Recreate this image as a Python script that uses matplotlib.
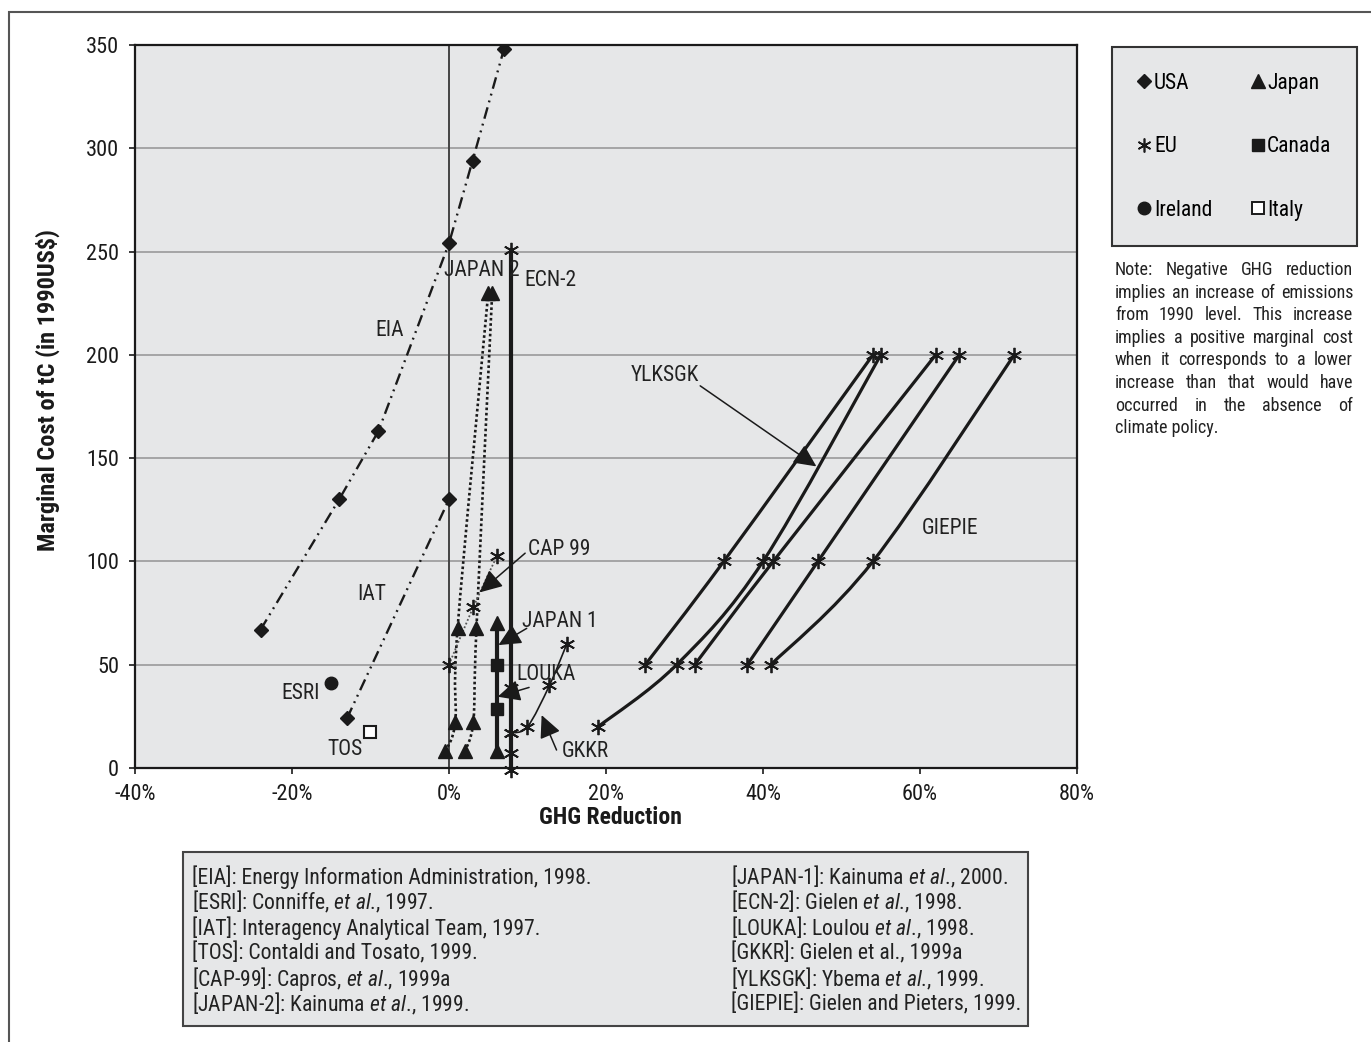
import numpy as np
import matplotlib
matplotlib.use("Agg")
import matplotlib.pyplot as plt
from matplotlib import font_manager
from matplotlib.path import Path
from matplotlib.patches import PathPatch, Rectangle
from matplotlib.lines import Line2D

# fonts: the exhibit uses a condensed sans, take the narrowest one installed
entries = [(f.name, str(f.stretch)) for f in font_manager.fontManager.ttflist]
FONT, STRETCH = "Liberation Sans", "normal"
for name, cond in [("Liberation Sans Narrow", None), ("Roboto Condensed", None),
                   ("DejaVu Sans", "condensed"), ("Open Sans Condensed", None)]:
    if any(n == name and (cond is None or s == cond) for n, s in entries):
        FONT, STRETCH = name, (cond or "normal")
        break
plt.rcParams["font.family"] = [FONT, "DejaVu Sans"]
plt.rcParams["font.stretch"] = STRETCH
plt.rcParams["mathtext.fontset"] = "custom"
plt.rcParams["mathtext.rm"] = FONT
plt.rcParams["mathtext.it"] = FONT + ":italic"
NARROW = FONT != "Liberation Sans"
SZ = 1.0 if NARROW else 0.9

# ---------------- data (x = GHG reduction %, y = marginal cost) ----------------
eia_x = [-24, -14, -9, 0, 3, 7]
eia_y = [67, 130, 163, 254, 294, 348]
iat_x = [-13, 0]
iat_y = [24, 130]
esri_x, esri_y = [-15], [41]
tos_x, tos_y = [-10], [17.5]

japan2a_x = [-0.5, 0.8, 1.1, 5.0]
japan2a_y = [8, 22.5, 68, 230]
japan2b_x = [2.0, 3.1, 3.5, 5.5]
japan2b_y = [8, 22.5, 68, 230]

cap99_x = [0, 3.1, 6.1]
cap99_y = [50, 78, 102.5]

japan1_x = [6.1, 6.1]
japan1_y = [8, 70]
canada_x = [6.1, 6.1]
canada_y = [28.5, 50]

ecn2_x = [7.9, 7.9]
ecn2_y = [-1, 251]
louka_x = [7.9, 7.9, 7.9]
louka_y = [7.5, 17, 38.5]
gkkr_x = [7.9, 10, 12.8, 15]
gkkr_y = [17, 20, 40, 60]

ylksgk_curves = [
    ([25, 35, 54], [50, 100, 200]),
    ([19, 29, 40, 55], [20, 50, 100, 200]),
    ([31.3, 41.3, 62], [50, 100, 200]),
]
giepie_curves = [
    ([38, 47, 65], [50, 100, 200]),
    ([41, 54, 72], [50, 100, 200]),
]

# study labels and arrows
plain_labels = [("EIA", -7.5, 212), ("JAPAN 2", 4.2, 241), ("ECN-2", 12.9, 236),
                ("IAT", -9.8, 84), ("ESRI", -18.9, 36), ("TOS", -13.3, 9),
                ("GIEPIE", 63.8, 116)]
arrow_labels = [("CAP 99", 14.1, 106, (9.7, 104), (3.9, 85)),
                ("JAPAN 1", 14.1, 71, (9.9, 67.6), (6.3, 59.5)),
                ("LOUKA", 12.3, 45.5, (10.2, 39), (6.2, 34.5)),
                ("GKKR", 17.4, 8, (13.7, 8.7), (11.8, 25.6)),
                ("YLKSGK", 27.5, 190, (32, 185), (46.8, 146))]

x_ticks = [-40, -20, 0, 20, 40, 60, 80]
y_ticks = [0, 50, 100, 150, 200, 250, 300, 350]

legend_labels = ["USA", "EU", "Ireland", "Japan", "Canada", "Italy"]

note_lines = ["Note:  Negative GHG reduction",
              "implies an increase of emissions",
              "from 1990 level. This increase",
              "implies a positive marginal cost",
              "when it corresponds to a lower",
              "increase than that would have",
              "occurred in the absence of",
              "climate policy."]

refs_left = [r"[EIA]: Energy Information Administration, 1998.",
             r"[ESRI]: Conniffe, $\mathit{et\ al}$., 1997.",
             r"[IAT]: Interagency Analytical Team, 1997.",
             r"[TOS]: Contaldi and Tosato, 1999.",
             r"[CAP-99]: Capros, $\mathit{et\ al}$., 1999a",
             r"[JAPAN-2]: Kainuma $\mathit{et\ al}$., 1999."]
refs_right = [r"[JAPAN-1]: Kainuma $\mathit{et\ al}$., 2000.",
              r"[ECN-2]: Gielen $\mathit{et\ al}$., 1998.",
              r"[LOUKA]: Loulou $\mathit{et\ al}$., 1998.",
              r"[GKKR]: Gielen et al., 1999a",
              r"[YLKSGK]: Ybema $\mathit{et\ al}$., 1999.",
              r"[GIEPIE]: Gielen and Pieters, 1999."]

W, H = 1371, 1042
BG = "#e6e7e8"
INK = "#1a1a1a"


def smooth_path(xs, ys):
    # Excel-like smoothed line through the points (cubic bezier, catmull-rom)
    pts = np.column_stack([xs, ys]).astype(float)
    n = len(pts)
    verts = [pts[0]]
    codes = [Path.MOVETO]
    for i in range(n - 1):
        p0 = pts[i - 1] if i > 0 else pts[i]
        p1, p2 = pts[i], pts[i + 1]
        p3 = pts[i + 2] if i + 2 < n else p2
        verts += [p1 + (p2 - p0) / 6, p2 - (p3 - p1) / 6, p2]
        codes += [Path.CURVE4] * 3
    return Path(verts, codes)


def smooth_line(ax, xs, ys, **kw):
    ax.add_patch(PathPatch(smooth_path(xs, ys), fill=False, capstyle="butt", **kw))


fig = plt.figure(figsize=(W / 100, H / 100), dpi=100)
ax = fig.add_axes([135 / W, 1 - 768 / H, (1077 - 135) / W, (768 - 45) / H])
ax.set_facecolor(BG)

# outer frame of the whole exhibit
fig.patches.append(Rectangle((9 / W, -0.05), 1.2, 1 - 12 / H + 0.05, transform=fig.transFigure,
                             fill=False, edgecolor="#555555", lw=1.5))

ax.set_xlim(-40, 80)
ax.set_ylim(0, 350)
ax.set_xticks(x_ticks)
ax.set_xticklabels([f"{v}%" for v in x_ticks])
ax.set_yticks(y_ticks)
ax.tick_params(axis="both", direction="out", length=4.5, width=1.2, labelsize=16 * SZ, colors=INK)
ax.tick_params(axis="x", pad=7)
ax.tick_params(axis="y", pad=7)
ax.yaxis.grid(True, color="#9a9a9a", lw=1.2)
ax.set_axisbelow(True)
for s in ax.spines.values():
    s.set_color(INK)
    s.set_linewidth(1.6)

ax.set_xlabel("GHG Reduction", fontsize=17 * SZ, fontweight="bold", color=INK)
ax.xaxis.set_label_coords((610 - 135) / 942, -(806 - 768) / 723)
ax.set_ylabel(r"Marginal Cost of tC (in 1990US\$)", fontsize=17.5 * SZ, fontweight="bold", color=INK)
ax.yaxis.set_label_coords(-(135 - 60) / 942, (768 - 390) / 723)

# vertical reference line at 0%
ax.axvline(0, color="#444444", lw=1.4, zorder=1.5)

dashdotdot = (0, (5, 2.2, 0.8, 2.2, 0.8, 2.2))
star = (6, 2, 0)

# USA studies
ax.plot(eia_x, eia_y, color=INK, lw=1.7, ls=dashdotdot, marker="D", ms=7, zorder=3)
ax.plot(iat_x, iat_y, color=INK, lw=1.7, ls=dashdotdot, marker="D", ms=7, zorder=3)
ax.plot(esri_x, esri_y, ls="none", marker="o", ms=9, color=INK, zorder=4)
ax.plot(tos_x, tos_y, ls="none", marker="s", ms=9, mfc="white", mec=INK, mew=1.5, zorder=4)

# JAPAN-2 dotted curves
for xs, ys in [(japan2a_x, japan2a_y), (japan2b_x, japan2b_y)]:
    smooth_line(ax, xs, ys, edgecolor=INK, lw=1.9, ls=(0, (1, 1)), zorder=3)
    ax.plot(xs, ys, ls="none", marker="^", ms=10, color=INK, zorder=4)

# CAP-99
smooth_line(ax, cap99_x, cap99_y, edgecolor="#555555", lw=1.3, ls=(0, (1, 1.2)), zorder=3)
ax.plot(cap99_x, cap99_y, ls="none", marker=star, ms=11, mew=1.3, color=INK, zorder=4)

# JAPAN-1 / Canada
ax.plot(japan1_x, japan1_y, color=INK, lw=3, marker="^", ms=10, zorder=3)
ax.plot(canada_x, canada_y, ls="none", marker="s", ms=9, color=INK, zorder=4)

# ECN-2, LOUKA, GKKR
ax.plot(ecn2_x, ecn2_y, color=INK, lw=3, marker=star, ms=11, mew=1.3, zorder=3, clip_on=False)
ax.plot(louka_x, louka_y, ls="none", marker=star, ms=11, mew=1.3, color=INK, zorder=4)
smooth_line(ax, gkkr_x, gkkr_y, edgecolor=INK, lw=1.2, zorder=3)
ax.plot(gkkr_x, gkkr_y, ls="none", marker=star, ms=11, mew=1.3, color=INK, zorder=4)

# YLKSGK / GIEPIE curves
for xs, ys in ylksgk_curves + giepie_curves:
    smooth_line(ax, xs, ys, edgecolor=INK, lw=2.3, zorder=3)
    ax.plot(xs, ys, ls="none", marker=star, ms=11, mew=1.3, color=INK, zorder=4)

# study labels
for txt, x, y in plain_labels:
    ax.text(x, y, txt, fontsize=15.5 * SZ, ha="center", va="center", color="#222222", zorder=5)
for txt, x, y, start, tip in arrow_labels:
    ax.text(x, y, txt, fontsize=15.5 * SZ, ha="center", va="center", color="#222222", zorder=5)
    ax.annotate("", xy=tip, xytext=start,
                arrowprops=dict(arrowstyle="-|>,head_length=1.15,head_width=0.55", color=INK,
                                lw=1.1, shrinkA=0, shrinkB=0, mutation_scale=12), zorder=5)

# country legend
markers = [dict(marker="D", ms=7), dict(marker=star, ms=10, mew=1.2),
           dict(marker="o", ms=9), dict(marker="^", ms=10),
           dict(marker="s", ms=9), dict(marker="s", ms=9, mfc="white", mew=1.4)]
handles = [Line2D([], [], ls="none", color=INK, **m) for m in markers]
leg = fig.legend(handles, legend_labels, ncol=2, loc="upper left",
                 bbox_to_anchor=(1112 / W, 1 - 47 / H), fontsize=15.5 * SZ, frameon=True,
                 fancybox=False, facecolor=BG, edgecolor="#333333", framealpha=1,
                 handlelength=0.6, handletextpad=0.15, labelspacing=1.97,
                 columnspacing=1.8 if NARROW else 1.4, borderpad=1.2, borderaxespad=0)
leg.get_frame().set_linewidth(1.5)

# justified note
renderer = fig.canvas.get_renderer()
nx0, nx1 = 1115 / W, 1353 / W
note_size = 13 if NARROW else 11.3
for k, line in enumerate(note_lines):
    y = 1 - (270 + k * 22.6) / H
    if k == len(note_lines) - 1:
        fig.text(nx0, y, line, fontsize=note_size, va="center", ha="left", color="#222222")
        continue
    words = line.split()
    ts = [fig.text(0, y, w, fontsize=note_size, va="center", ha="left", color="#222222")
          for w in words]
    widths = [t.get_window_extent(renderer).width / fig.bbox.width for t in ts]
    gap = max((nx1 - nx0 - sum(widths)) / (len(words) - 1), 2.5 / W)
    x = nx0
    for t, wd in zip(ts, widths):
        t.set_x(x)
        x += wd + gap

# references box
fig.patches.append(Rectangle((183 / W, 1 - 1026 / H), (1028 - 183) / W, (1026 - 852) / H,
                             transform=fig.transFigure, facecolor=BG, edgecolor="#444444", lw=1.5))
ref_size = 15.6 if NARROW else 13.5
for k, (a, b) in enumerate(zip(refs_left, refs_right)):
    y = 1 - (877 + k * 25.4) / H
    fig.text(192 / W, y, a, fontsize=ref_size, va="center", ha="left", color="#222222")
    fig.text(731 / W, y, b, fontsize=ref_size, va="center", ha="left", color="#222222")

fig.savefig("out.png", dpi=100, facecolor="white")
